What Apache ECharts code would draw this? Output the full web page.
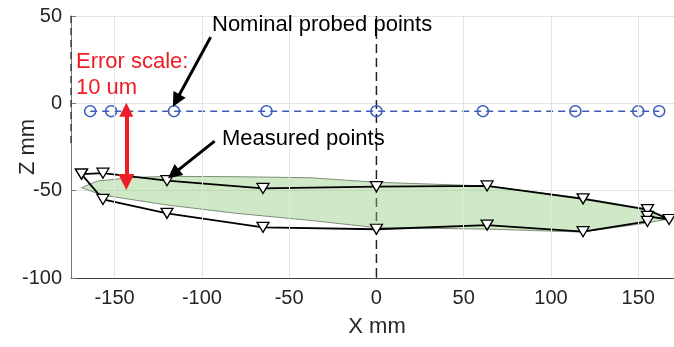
<!DOCTYPE html>
<html><head><meta charset="utf-8">
<script src="https://cdn.jsdelivr.net/npm/echarts@6/dist/echarts.min.js"></script>
<style>html,body{margin:0;padding:0;background:#fff}#c{width:674px;height:347px}</style>
</head><body><div id="c"></div>
<script>
// ---- data ----
const xTicks = [-150, -100, -50, 0, 50, 100, 150];
const yTicks = [-100, -50, 0, 50];
const nominalX = [-164, -152, -116, -63, 0, 61, 114, 150, 162];
const nominalZ = [-4.5, -4.5, -4.5, -4.5, -4.5, -4.5, -4.5, -4.5, -4.5];
const measuredX = [-169, -156.7, -120, -65, 0, 63.4, 118.4, 155.3, 167.7, 155.3, 155.3, 118.4, 63.4, 0, -65, -120, -156.7, -169];
const measuredZ = [-40.5, -40, -44.3, -48.7, -47.7, -47.3, -54.7, -60.9, -66.5, -64.7, -67.6, -73.5, -69.7, -72.1, -71, -63, -55, -40.5];
const fitX = [-169, -160, -140, -120, -80, -38, 0, 63, 118, 155, 168, 155, 118, 63, 0, -38, -80, -120, -157];
const fitZ = [-48.3, -44.5, -42.5, -41.8, -42, -42.6, -45.2, -47.3, -54.2, -60.5, -66, -68.5, -73.7, -72, -71.2, -67, -63, -58.2, -52.5];
// annotation arrows (data coords)
const nominalArrow = [[-95, 37.9], [-114.7, 1.6]];
const measuredArrow = [[-92.7, -21.6], [-116.3, -40.4]];
const errorArrow = [[-143.3, -3.7], [-143.3, -45]];
const zeroLineX = [0, 0];
const zeroLineZ = [50, -100];
const edgeLineX = [-175, -175];
const edgeLineZ = [50, -25];

const FONT = '"Liberation Sans", Arial, Helvetica, sans-serif';
const chart = echarts.init(document.getElementById('c'), null, {renderer: 'canvas'});
const zip = (a, b) => a.map((v, i) => [v, b[i]]);

chart.setOption({
  animation: false,
  backgroundColor: '#fff',
  grid: {left: 71, right: 0, top: 16, bottom: 69, containLabel: false},
  xAxis: {
    type: 'value', min: -175, max: 170.5, interval: 50,
    axisLine: {show: true, onZero: false, lineStyle: {color: '#404040', width: 1}},
    axisTick: {show: true, inside: true, length: 5, customValues: xTicks, lineStyle: {color: '#404040'}},
    axisLabel: {customValues: xTicks, color: '#262626', fontSize: 20, fontFamily: FONT, margin: 10},
    splitLine: {show: false}
  },
  yAxis: {
    type: 'value', min: -100, max: 50, interval: 50,
    axisLine: {show: true, onZero: false, lineStyle: {color: '#777', width: 1}},
    axisTick: {show: true, inside: true, length: 5, lineStyle: {color: '#777'}},
    axisLabel: {color: '#262626', fontSize: 20, fontFamily: FONT, margin: 9},
    splitLine: {show: true, lineStyle: {color: '#e3e3e3', width: 1}}
  },
  series: [
    {
      type: 'line', z: 1, silent: true, symbol: 'none',
      data: zip(zeroLineX, zeroLineZ),
      lineStyle: {color: '#222', width: 1.5, type: [9, 5]},
      markLine: {
        silent: true, symbol: 'none', label: {show: false},
        lineStyle: {color: '#e3e3e3', type: 'solid', width: 1},
        data: xTicks.filter(v => v !== 0).map(v => ({xAxis: v}))
      }
    },
    {
      type: 'line', z: 1, silent: true, symbol: 'none', clip: false,
      data: zip(edgeLineX, edgeLineZ),
      lineStyle: {color: '#333', width: 1.3, type: [7, 5]}
    },
    {
      type: 'custom', z: 2, silent: true,
      data: [[0, -57]],
      renderItem: (params, api) => ({
        type: 'polygon',
        shape: {points: fitX.map((x, i) => api.coord([x, fitZ[i]]))},
        style: {fill: 'rgba(140,200,120,0.42)', stroke: '#7d8f79', lineWidth: 1}
      })
    },
    {
      type: 'line', z: 3, silent: true,
      data: zip(measuredX, measuredZ),
      symbol: 'triangle', symbolRotate: 180, symbolSize: [12, 10],
      lineStyle: {color: '#000', width: 1.8},
      itemStyle: {color: '#fff', borderColor: '#000', borderWidth: 1.3}
    },
    {
      type: 'line', z: 3, silent: true,
      data: zip(nominalX, nominalZ),
      symbol: 'circle', symbolSize: 11,
      lineStyle: {color: '#3d5cb8', width: 1.5, type: [7, 5]},
      itemStyle: {color: 'rgba(0,0,0,0)', borderColor: '#3d5cb8', borderWidth: 1.5}
    },
    {
      type: 'lines', coordinateSystem: 'cartesian2d', z: 5, silent: true,
      symbol: ['none', 'triangle'], symbolSize: [11, 14],
      lineStyle: {color: '#000', width: 3, opacity: 1, curveness: 0},
      data: [{coords: nominalArrow}, {coords: measuredArrow}]
    },
    {
      type: 'lines', coordinateSystem: 'cartesian2d', z: 5, silent: true,
      symbol: ['triangle', 'triangle'], symbolSize: [14, 16],
      lineStyle: {color: '#ee1c24', width: 4, opacity: 1, curveness: 0},
      data: [{coords: errorArrow}]
    }
  ],
  graphic: [
    {type: 'text', left: 212, top: 14, z: 10, style: {text: 'Nominal probed points', font: '22px ' + FONT, fill: '#000'}},
    {type: 'text', left: 222, top: 128, z: 10, style: {text: 'Measured points', font: '22px ' + FONT, fill: '#000'}},
    {type: 'text', left: 76, top: 51, z: 10, style: {text: 'Error scale:', font: '22px ' + FONT, fill: '#ee1c24'}},
    {type: 'text', left: 76, top: 77, z: 10, style: {text: '10 um', font: '22px ' + FONT, fill: '#ee1c24'}},
    {type: 'text', x: 377, y: 327, z: 10, style: {text: 'X mm', font: '22px ' + FONT, fill: '#262626', align: 'center', verticalAlign: 'middle'}},
    {type: 'text', x: 28, y: 147, rotation: Math.PI / 2, z: 10, style: {text: 'Z mm', font: '22px ' + FONT, fill: '#262626', align: 'center', verticalAlign: 'middle'}}
  ]
});
</script></body></html>
